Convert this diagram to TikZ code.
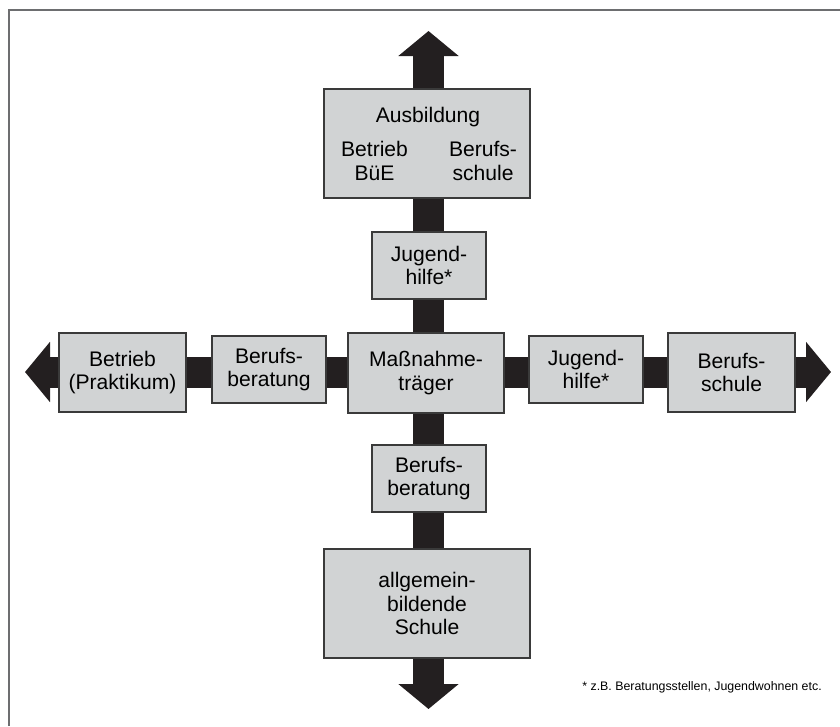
\documentclass[tikz,border=0pt]{standalone}
\usepackage{fontspec}
\setmainfont{Liberation Sans}
\usetikzlibrary{arrows.meta}

\definecolor{boxgray}{HTML}{D1D3D4}
\definecolor{bardark}{HTML}{231F20}
\definecolor{edgegray}{HTML}{3A3A3A}
\definecolor{framegray}{HTML}{6D6E70}

\tikzset{%
  station/.style={
    rectangle,
    draw=edgegray,
    line width=0.9pt,
    fill=boxgray,
    inner sep=0pt,
    align=center,
    font=\fontsize{15}{16.5}\selectfont
  },
  station small/.style={
    station,
    minimum width=2.85cm,
    minimum height=1.675cm
  },
  station wide/.style={
    station,
    minimum width=3.175cm,
    minimum height=1.975cm
  },
  station big/.style={
    station,
    minimum width=5.15cm,
    minimum height=2.725cm
  },
  inner text/.style={
    inner sep=0pt,
    align=center,
    font=\fontsize{15}{16.5}\selectfont
  },
  bar/.style={
    draw=bardark,
    line width=0.775cm,
    >={Triangle[width=1.475cm,length=0.625cm]},
    <->
  },
}

\begin{document}
\begin{tikzpicture}[x=0.025cm,y=-0.025cm]
\useasboundingbox (0,0) rectangle (840,726);
\draw[framegray, line width=1.4pt] (9,726) |- (840,10);

% ends of the cross
\coordinate (tipN) at (428.5,31);
\coordinate (tipS) at (428.5,709);
\coordinate (tipW) at (25,372);
\coordinate (tipE) at (831,372);
\draw[bar] (tipS) -- (tipN);
\draw[bar] (tipW) -- (tipE);

% vertical line
\node[station big] (ausb) at (427,143.5) {};
\node[inner text, anchor=base] (ausbT) at (428,122) {Ausbildung};
\node[inner text] (ausbL) at (374.5,161) {Betrieb\\BüE};
\node[inner text] (ausbR) at (483,161) {Berufs-\\schule};
\node[station small] (jhN) at (429,265.5) {Jugend-\\hilfe*};
\node[station, minimum width=3.9cm, minimum height=2cm] (mt) at (426,373) {Maßnahme-\\träger};
\node[station small] (bbS) at (429,478.5) {Berufs-\\beratung};
\node[station big] (ags) at (427,603.5) {allgemein-\\bildende\\Schule};

% horizontal line
\node[station wide] (betr) at (122.5,372.5) {Betrieb\\(Praktikum)};
\node[station small] (bbW) at (269,369.5) {Berufs-\\beratung};
\node[station small] (jhE) at (586,369.5) {Jugend-\\hilfe*};
\node[station wide] (bs) at (731.5,372.5) {Berufs-\\schule};

\node[anchor=base east, inner sep=0pt, font=\fontsize{8.8}{10}\selectfont] (note) at (822,690)
  {* z.B. Beratungsstellen, Jugendwohnen etc.};
\end{tikzpicture}
\end{document}
